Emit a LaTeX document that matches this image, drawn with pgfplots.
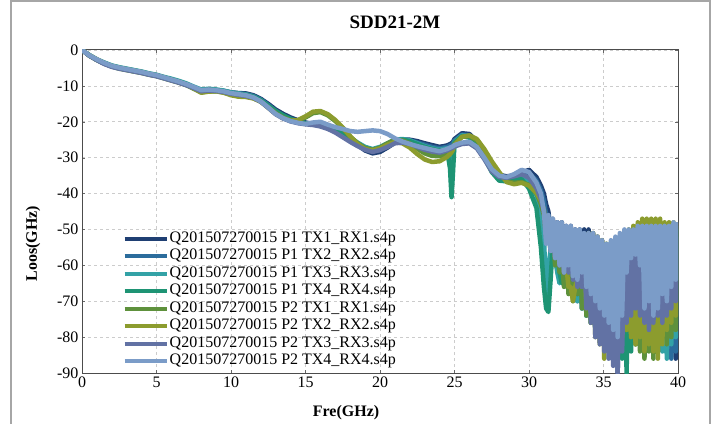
\documentclass[border=0pt]{standalone}
\usepackage{fontspec}
\setmainfont{Liberation Serif}
\usepackage{pgfplots}
\usepackage{pgfplotstable}
\pgfplotsset{compat=1.18}
\definecolor{c1}{HTML}{1F3F73}
\definecolor{c2}{HTML}{2B6C9C}
\definecolor{c3}{HTML}{33A2A6}
\definecolor{c4}{HTML}{1E9474}
\definecolor{c5}{HTML}{5E913C}
\definecolor{c6}{HTML}{8C9C2E}
\definecolor{c7}{HTML}{6272A4}
\definecolor{c8}{HTML}{7B9CC8}
\pgfplotstableread{
f a b c d e g h k
0.0 0 0 0 0 0 0 0 0
0.5 -1.6 -1.5 -1.4 -1.5 -1.6 -1.5 -1.6 -1.5
1.0 -2.8 -2.7 -2.6 -2.7 -2.8 -2.6 -2.8 -2.6
1.5 -3.8 -3.7 -3.5 -3.6 -3.8 -3.7 -3.9 -3.6
2.0 -4.6 -4.5 -4.3 -4.4 -4.6 -4.5 -4.7 -4.4
2.5 -5.1 -5.0 -4.8 -4.9 -5.2 -5.0 -5.2 -4.9
3.0 -5.5 -5.4 -5.2 -5.3 -5.6 -5.4 -5.6 -5.3
3.5 -5.9 -5.8 -5.6 -5.7 -6.0 -5.8 -6.0 -5.7
4.0 -6.3 -6.2 -6.0 -6.1 -6.4 -6.2 -6.4 -6.1
4.5 -6.8 -6.7 -6.5 -6.6 -6.9 -6.7 -6.9 -6.6
5.0 -7.2 -7.1 -6.9 -7.0 -7.3 -7.1 -7.3 -7.0
5.5 -7.8 -7.7 -7.5 -7.6 -7.9 -7.7 -7.9 -7.6
6.0 -8.4 -8.3 -8.0 -8.2 -8.5 -8.3 -8.5 -8.2
6.5 -9.0 -8.9 -8.6 -8.8 -9.1 -8.9 -9.1 -8.8
7.0 -9.7 -9.6 -9.3 -9.5 -9.8 -9.6 -9.8 -9.5
7.5 -10.5 -10.4 -10.2 -10.4 -10.8 -10.7 -10.6 -10.3
8.0 -11.3 -11.2 -11.0 -11.3 -11.8 -11.9 -11.5 -11.2
8.5 -11.1 -11.0 -10.8 -11.0 -11.5 -11.6 -11.3 -11.0
9.0 -11.2 -11.1 -11.0 -11.2 -11.5 -11.5 -11.4 -11.2
9.5 -11.4 -11.4 -11.3 -11.5 -11.8 -11.9 -11.7 -11.5
10.0 -11.8 -11.9 -11.8 -12.0 -12.4 -12.6 -12.2 -12.0
10.5 -12.0 -12.1 -12.1 -12.3 -12.8 -13.0 -12.5 -12.3
11.0 -12.1 -12.3 -12.4 -12.5 -12.9 -13.1 -12.8 -12.6
11.5 -12.6 -12.8 -13.0 -13.0 -13.4 -13.5 -13.3 -13.2
12.0 -13.6 -13.8 -14.0 -14.0 -14.4 -14.4 -14.4 -14.3
12.5 -15.0 -15.3 -15.6 -15.5 -16.0 -16.1 -16.1 -16.0
13.0 -16.6 -17.0 -17.2 -17.0 -17.6 -17.8 -17.9 -17.8
13.5 -17.8 -18.3 -18.5 -18.2 -18.8 -19.0 -19.1 -19.0
14.0 -18.8 -19.2 -19.4 -19.2 -19.6 -19.7 -19.9 -19.8
14.5 -19.6 -19.9 -20.1 -19.9 -19.6 -19.5 -20.4 -20.3
15.0 -20.2 -20.4 -20.5 -20.4 -18.8 -18.5 -20.7 -20.6
15.5 -20.6 -20.6 -20.6 -20.7 -17.6 -17.2 -20.9 -20.2
16.0 -21.0 -20.9 -20.9 -21.0 -17.3 -17.0 -21.3 -20.0
16.5 -21.6 -21.5 -21.4 -21.5 -18.2 -17.9 -22.0 -20.8
17.0 -22.5 -22.2 -22.0 -22.3 -19.8 -19.5 -23.0 -21.5
17.5 -23.6 -23.2 -23.0 -23.4 -21.8 -21.6 -24.3 -22.0
18.0 -25.0 -24.6 -24.4 -24.8 -24.2 -24.0 -25.6 -22.6
18.5 -26.5 -26.0 -25.8 -26.2 -26.0 -26.2 -26.8 -22.8
19.0 -28.0 -27.4 -27.0 -27.5 -27.3 -27.6 -27.8 -22.6
19.5 -28.8 -28.2 -27.6 -28.0 -27.8 -28.0 -28.4 -22.4
20.0 -28.4 -27.8 -27.0 -27.4 -27.2 -27.4 -27.9 -22.6
20.5 -27.2 -26.8 -26.0 -26.3 -26.0 -26.4 -27.0 -23.4
21.0 -25.8 -25.6 -25.0 -25.2 -25.0 -25.6 -26.0 -24.6
21.5 -25.0 -25.0 -24.8 -25.0 -25.2 -26.0 -25.8 -25.5
22.0 -25.0 -25.2 -25.2 -25.4 -26.0 -27.2 -26.2 -26.2
22.5 -25.4 -25.8 -26.0 -26.2 -27.5 -29.0 -27.0 -26.8
23.0 -26.0 -26.4 -26.8 -27.0 -28.8 -30.5 -27.8 -27.3
23.5 -26.5 -27.0 -27.4 -27.6 -29.5 -31.2 -28.3 -27.8
24.0 -27.0 -27.4 -27.8 -28.0 -29.6 -31.0 -28.6 -28.2
24.5 -26.6 -27.0 -27.4 -27.8 -28.8 -29.8 -28.0 -27.6
24.7 -26.2 -26.6 -30.0 -33.0 -28.2 -29.0 -27.6 -27.2
24.8 -26.0 -26.4 -38.5 -41.0 -27.8 -28.5 -27.4 -27.0
24.9 -25.6 -26.0 -31.0 -34.0 -27.2 -27.8 -27.2 -26.8
25.0 -24.8 -25.2 -25.6 -25.8 -26.2 -26.5 -26.9 -26.5
25.5 -23.2 -23.6 -23.8 -24.0 -24.2 -24.2 -26.2 -25.8
26.0 -23.4 -23.8 -24.0 -24.4 -24.0 -23.8 -26.0 -25.6
26.5 -25.5 -26.0 -26.2 -26.6 -25.2 -24.8 -27.4 -27.0
27.0 -29.0 -29.4 -29.6 -30.0 -28.0 -27.6 -30.4 -30.0
27.5 -32.6 -33.0 -33.4 -34.0 -31.5 -31.0 -33.8 -33.2
28.0 -34.8 -35.2 -35.6 -36.4 -34.5 -34.0 -35.4 -35.0
28.5 -35.2 -35.6 -36.0 -36.6 -36.6 -36.8 -35.6 -35.4
29.0 -35.0 -35.4 -35.8 -36.2 -37.0 -37.4 -35.2 -34.6
29.5 -34.2 -34.8 -35.4 -36.0 -36.8 -37.0 -34.6 -33.4
30.0 -33.4 -34.2 -36.6 -38.6 -37.6 -37.8 -35.6 -34.0
30.5 -35.4 -36.4 -40.5 -44.0 -40.0 -39.8 -38.5 -37.0
30.8 -37.8 -39.0 -46.0 -55.0 -43.0 -42.0 -41.5 -40.0
31.00 -40 -42 -52 -66 -46 -44.5 -45 -45
31.15 -43 -46 -68 -72 -52 -50 -52 -54
31.30 -45 -46 -60 -73 -50 -49 -50 -46
31.45 -50 -54 -56 -64 -56 -54 -56 -56
31.60 -47 -48 -52 -54 -52 -50 -52 -47
31.75 -55 -58 -58 -52 -60 -56 -58 -58
31.90 -48 -49 -62 -56 -55 -52 -53 -48
32.05 -60 -62 -65 -62 -62 -58 -60 -60
32.20 -48 -49 -60 -65 -58 -55 -54 -48
32.35 -63 -64 -56 -60 -66 -62 -62 -62
32.50 -49 -50 -52 -54 -56 -60 -54 -49
32.65 -66 -66 -62 -60 -68 -66 -62 -60
32.80 -49 -50 -52 -52 -54 -66 -55 -49
32.95 -64 -68 -66 -64 -70 -70 -64 -63
33.10 -50 -51 -52 -52 -52 -66 -55 -50
33.25 -68 -70 -70 -68 -68 -64 -66 -64
33.40 -50 -51 -52 -52 -52 -58 -56 -50
33.55 -70 -72 -72 -70 -72 -66 -66 -62
33.70 -50 -52 -52 -52 -52 -52 -56 -51
33.85 -72 -74 -74 -72 -74 -72 -72 -66
34.00 -50 -52 -52 -52 -52 -51 -57 -51
34.15 -74 -76 -76 -74 -76 -76 -76 -68
34.30 -51 -53 -52 -52 -52 -51 -58 -51
34.45 -76 -78 -78 -76 -78 -80 -80 -70
34.60 -52 -53 -53 -53 -53 -52 -58 -52
34.75 -78 -80 -80 -78 -80 -82 -82 -72
34.90 -53 -54 -54 -54 -54 -53 -58 -53
35.05 -80 -82 -82 -80 -82 -86 -84 -74
35.20 -55 -55 -55 -55 -54 -54 -58 -54
35.35 -82 -84 -84 -84 -84 -82 -86 -76
35.50 -55 -55 -55 -55 -55 -54 -58 -53
35.65 -84 -86 -86 -86 -85 -80 -88 -78
35.80 -54 -54 -54 -54 -54 -53 -58 -52
35.95 -90 -84 -85 -84 -82 -78 -90 -80
36.10 -53 -53 -53 -53 -53 -52 -56 -51
36.25 -80 -82 -84 -86 -80 -80 -84 -74
36.40 -52 -52 -52 -52 -52 -51 -55 -50
36.55 -78 -80 -82 -90 -78 -78 -76 -62
36.70 -51 -52 -52 -52 -51 -50 -55 -50
36.85 -76 -78 -80 -84 -80 -80 -74 -58
37.00 -51 -51 -51 -51 -50 -49 -56 -50
37.15 -78 -80 -82 -80 -82 -82 -72 -57
37.30 -50 -50 -51 -51 -50 -48 -55 -49
37.45 -80 -78 -80 -82 -84 -80 -74 -60
37.60 -50 -50 -51 -51 -49 -47 -55 -49
37.75 -78 -76 -84 -78 -86 -84 -76 -72
37.90 -50 -50 -50 -50 -49 -47 -54 -49
38.05 -76 -78 -82 -80 -84 -82 -78 -70
38.20 -49 -50 -50 -50 -49 -47 -54 -49
38.35 -80 -80 -80 -82 -86 -84 -76 -74
38.50 -49 -50 -50 -50 -48 -47 -54 -49
38.65 -82 -78 -82 -84 -82 -86 -74 -72
38.80 -49 -50 -50 -50 -48 -47 -55 -49
38.95 -78 -76 -84 -78 -80 -82 -76 -68
39.10 -50 -50 -50 -50 -49 -48 -55 -49
39.25 -80 -80 -86 -76 -82 -78 -74 -70
39.40 -49 -50 -50 -50 -49 -48 -54 -49
39.55 -84 -86 -82 -78 -80 -76 -72 -66
39.70 -49 -49 -50 -50 -49 -48 -53 -48
39.85 -86 -84 -80 -76 -78 -74 -70 -64
40.00 -50 -49 -50 -50 -49 -48 -52 -48
}\data
\begin{document}
\begin{tikzpicture}
\begin{axis}[
  at={(82pt,50pt)}, anchor=south west,
  width=596pt, height=323pt, scale only axis,
  xmin=0, xmax=40, ymin=-90, ymax=0,
  xtick={0,5,...,40}, ytick={-90,-80,...,0},
  grid=major, grid style={dashed, gray!40, line width=0.6pt},
  axis line style={black!70, line width=1pt},
  tick style={black!60},
  major tick length=3pt,
  tick align=inside,
  /pgf/number format/assume math mode=true,
  tick label style={font=\fontsize{16}{18}\selectfont},
  xlabel={Fre(GHz)}, ylabel={Loos(GHz)},
  label style={font=\bfseries\fontsize{16}{18}\selectfont},
  xlabel style={at={(axis description cs:0.443,-0.124)}, anchor=center},
  ylabel style={at={(axis description cs:-0.082,0.40)}, anchor=center},
  legend style={at={(0.068,0.444)}, anchor=north west, draw=none, fill=none,
    font=\fontsize{16}{17}\selectfont, row sep=0pt, inner sep=0pt,
    nodes={inner sep=1pt, text height=11.5pt, text depth=4pt}},
  legend cell align=left,
  legend image code/.code={\draw[#1,line width=4pt] (0pt,0pt) -- (42pt,0pt);},
  every axis plot/.append style={line width=4.5pt, line join=round},
]
\addplot[c1] table[x=f,y=a]{\data};
\addplot[c2] table[x=f,y=b]{\data};
\addplot[c3] table[x=f,y=c]{\data};
\addplot[c4] table[x=f,y=d]{\data};
\addplot[c5] table[x=f,y=e]{\data};
\addplot[c6] table[x=f,y=g]{\data};
\addplot[c7] table[x=f,y=h]{\data};
\addplot[c8] table[x=f,y=k]{\data};
\legend{Q201507270015 P1 TX1\_RX1.s4p, Q201507270015 P1 TX2\_RX2.s4p,
  Q201507270015 P1 TX3\_RX3.s4p, Q201507270015 P1 TX4\_RX4.s4p,
  Q201507270015 P2 TX1\_RX1.s4p, Q201507270015 P2 TX2\_RX2.s4p,
  Q201507270015 P2 TX3\_RX3.s4p, Q201507270015 P2 TX4\_RX4.s4p}
\end{axis}
\node[font=\bfseries\fontsize{19}{22}\selectfont] at (395pt,401pt) {SDD21-2M};
\draw[gray!70, line width=2pt] (11pt,-10pt) -- (11pt,422pt) -- (710pt,422pt) -- (710pt,-10pt);
\pgfresetboundingbox
\path[use as bounding box] (0,0) rectangle (717pt,423pt);
\end{tikzpicture}
\end{document}
